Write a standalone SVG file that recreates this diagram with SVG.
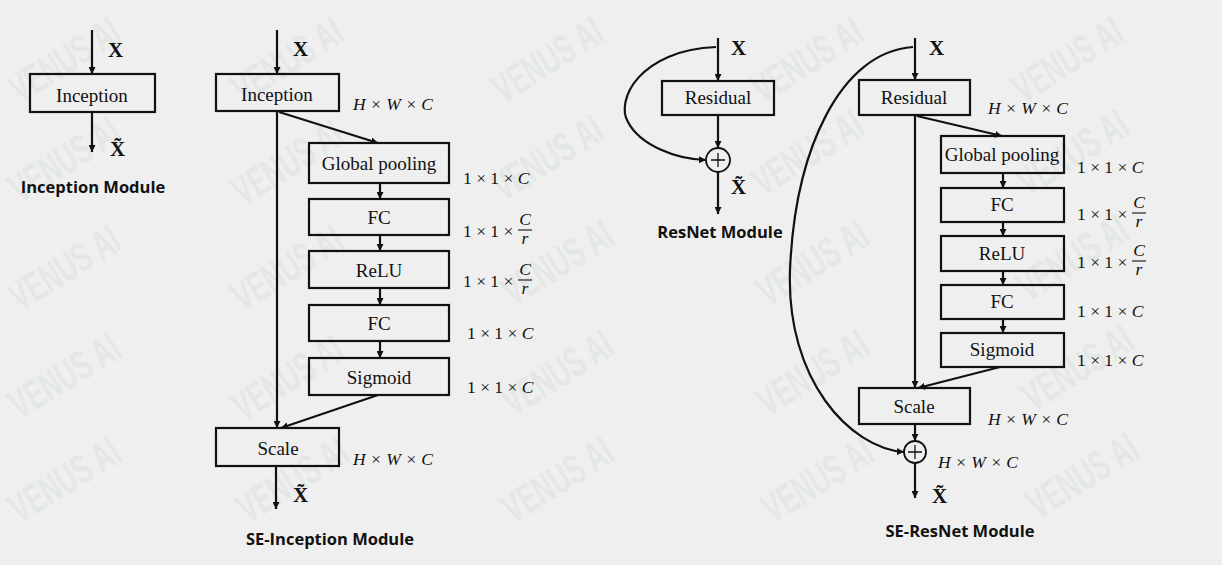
<svg xmlns="http://www.w3.org/2000/svg" width="1222" height="565" viewBox="0 0 1222 565">
<defs>
<marker id="ah" viewBox="0 0 10 10" refX="10" refY="5" markerWidth="7" markerHeight="7" markerUnits="userSpaceOnUse" orient="auto">
<path d="M0,0 L10,5 L0,10 z" fill="#111"/>
</marker>
<style>
.bg{fill:#efefef}
.box{fill:none;stroke:#111;stroke-width:2.2}
.arr{fill:none;stroke:#111;stroke-width:2.2;marker-end:url(#ah)}
.lbl{font-family:"Liberation Serif","Times New Roman",serif;font-size:19px;fill:#111;text-anchor:middle}
.x{font-family:"Liberation Serif","Times New Roman",serif;font-size:21px;font-weight:bold;fill:#111}
.dim{font-family:"Liberation Serif","Times New Roman",serif;font-size:17.5px;fill:#111}
.it{font-style:italic}
.frac{stroke:#111;stroke-width:1.1}
.title{font-family:"Open Sans","Liberation Sans",sans-serif;font-size:16.5px;font-weight:bold;fill:#111;text-anchor:middle}
.wm{font-family:"Liberation Sans","DejaVu Sans",sans-serif;font-size:42px;font-weight:bold;fill:#dbe3e1;opacity:0.55;text-anchor:middle}
</style>
</defs>
<rect class="bg" x="0" y="0" width="1222" height="565"/>

<g id="watermarks">
<text class="wm" transform="translate(72,72) rotate(-32) scale(0.62,1)">VENUS AI</text>
<text class="wm" transform="translate(72,172) rotate(-32) scale(0.62,1)">VENUS AI</text>
<text class="wm" transform="translate(72,280) rotate(-32) scale(0.62,1)">VENUS AI</text>
<text class="wm" transform="translate(72,388) rotate(-32) scale(0.62,1)">VENUS AI</text>
<text class="wm" transform="translate(72,492) rotate(-32) scale(0.62,1)">VENUS AI</text>
<text class="wm" transform="translate(295,72) rotate(-32) scale(0.62,1)">VENUS AI</text>
<text class="wm" transform="translate(295,175) rotate(-32) scale(0.62,1)">VENUS AI</text>
<text class="wm" transform="translate(295,280) rotate(-32) scale(0.62,1)">VENUS AI</text>
<text class="wm" transform="translate(295,390) rotate(-32) scale(0.62,1)">VENUS AI</text>
<text class="wm" transform="translate(300,492) rotate(-32) scale(0.62,1)">VENUS AI</text>
<text class="wm" transform="translate(555,72) rotate(-32) scale(0.62,1)">VENUS AI</text>
<text class="wm" transform="translate(555,170) rotate(-32) scale(0.62,1)">VENUS AI</text>
<text class="wm" transform="translate(565,275) rotate(-32) scale(0.62,1)">VENUS AI</text>
<text class="wm" transform="translate(565,385) rotate(-32) scale(0.62,1)">VENUS AI</text>
<text class="wm" transform="translate(565,492) rotate(-32) scale(0.62,1)">VENUS AI</text>
<text class="wm" transform="translate(815,72) rotate(-32) scale(0.62,1)">VENUS AI</text>
<text class="wm" transform="translate(815,165) rotate(-32) scale(0.62,1)">VENUS AI</text>
<text class="wm" transform="translate(820,275) rotate(-32) scale(0.62,1)">VENUS AI</text>
<text class="wm" transform="translate(820,385) rotate(-32) scale(0.62,1)">VENUS AI</text>
<text class="wm" transform="translate(825,492) rotate(-32) scale(0.62,1)">VENUS AI</text>
<text class="wm" transform="translate(1075,72) rotate(-32) scale(0.62,1)">VENUS AI</text>
<text class="wm" transform="translate(1080,165) rotate(-32) scale(0.62,1)">VENUS AI</text>
<text class="wm" transform="translate(1080,270) rotate(-32) scale(0.62,1)">VENUS AI</text>
<text class="wm" transform="translate(1085,380) rotate(-32) scale(0.62,1)">VENUS AI</text>
<text class="wm" transform="translate(1090,488) rotate(-32) scale(0.62,1)">VENUS AI</text>
</g>

<g id="connectors">
<line class="arr" x1="92" y1="30" x2="92" y2="74"/>
<line class="arr" x1="92" y1="112" x2="92" y2="152"/>
<line class="arr" x1="277" y1="30" x2="277" y2="74"/>
<line class="arr" x1="277" y1="111" x2="277" y2="428"/>
<line class="arr" x1="279" y1="112" x2="378" y2="143"/>
<line class="arr" x1="380" y1="183" x2="380" y2="199"/>
<line class="arr" x1="380" y1="235" x2="380" y2="251"/>
<line class="arr" x1="380" y1="288" x2="380" y2="305"/>
<line class="arr" x1="380" y1="341" x2="380" y2="358"/>
<line class="arr" x1="378" y1="395" x2="281" y2="428"/>
<line class="arr" x1="276" y1="466" x2="276" y2="509"/>
<line class="arr" x1="718" y1="38" x2="718" y2="81"/>
<path class="arr" d="M716,47 C640,50 615,100 628,122 C640,145 675,159 706,160"/>
<line class="arr" x1="718" y1="115" x2="718" y2="148"/>
<line class="arr" x1="718" y1="172" x2="718" y2="214"/>
<line class="arr" x1="915" y1="38" x2="915" y2="80"/>
<path class="arr" d="M913,47 C840,52 795,150 790,270 C786,380 850,448 904,452"/>
<line class="arr" x1="915" y1="115" x2="915" y2="388"/>
<line class="arr" x1="917" y1="116" x2="1002" y2="136"/>
<line class="arr" x1="1003" y1="173" x2="1003" y2="188"/>
<line class="arr" x1="1003" y1="222" x2="1003" y2="236"/>
<line class="arr" x1="1003" y1="271" x2="1003" y2="285"/>
<line class="arr" x1="1003" y1="319" x2="1003" y2="333"/>
<line class="arr" x1="1000" y1="367" x2="918" y2="388"/>
<line class="arr" x1="915" y1="424" x2="915" y2="441"/>
<line class="arr" x1="915" y1="463" x2="915" y2="498"/>
</g>

<g id="inception-module">
<rect class="box" x="30" y="74" width="125" height="38"/>
<text class="lbl" x="92" y="102">Inception</text>
<text class="x" x="108" y="57">X</text>
<text class="x" x="110" y="156">X̃</text>
<text class="title" x="93" y="193">Inception Module</text>
</g>

<g id="se-inception">
<g id="se-inc-inception"><rect class="box" x="216" y="74" width="123" height="37"/><text class="lbl" x="277" y="101">Inception</text></g>
<text class="x" x="293" y="56">X</text>
<text class="dim it" x="353" y="110">H × W × C</text>
<g id="se-inc-gp"><rect class="box" x="309" y="143" width="140" height="40"/><text class="lbl" x="379" y="170">Global pooling</text></g>
<text class="dim" x="463" y="184">1 × 1 × <tspan class="it">C</tspan></text>
<g id="se-inc-fc1"><rect class="box" x="309" y="199" width="140" height="36"/><text class="lbl" x="379" y="224">FC</text></g>
<text class="dim" x="463" y="237">1 × 1 ×</text>
<text class="dim it" x="525" y="225" text-anchor="middle">C</text>
<line class="frac" x1="518" y1="230" x2="532" y2="230"/>
<text class="dim it" x="525" y="244" text-anchor="middle">r</text>
<g id="se-inc-relu"><rect class="box" x="309" y="251" width="140" height="37"/><text class="lbl" x="379" y="277">ReLU</text></g>
<text class="dim" x="463" y="287">1 × 1 ×</text>
<text class="dim it" x="525" y="275" text-anchor="middle">C</text>
<line class="frac" x1="518" y1="280" x2="532" y2="280"/>
<text class="dim it" x="525" y="294" text-anchor="middle">r</text>
<g id="se-inc-fc2"><rect class="box" x="309" y="305" width="140" height="36"/><text class="lbl" x="379" y="330">FC</text></g>
<text class="dim" x="467" y="339">1 × 1 × <tspan class="it">C</tspan></text>
<g id="se-inc-sig"><rect class="box" x="309" y="358" width="140" height="37"/><text class="lbl" x="379" y="384">Sigmoid</text></g>
<text class="dim" x="467" y="393">1 × 1 × <tspan class="it">C</tspan></text>
<g id="se-inc-scale"><rect class="box" x="216" y="428" width="123" height="38"/><text class="lbl" x="278" y="455">Scale</text></g>
<text class="dim it" x="353" y="465">H × W × C</text>
<text class="x" x="293" y="502">X̃</text>
<text class="title" x="330" y="545">SE-Inception Module</text>
</g>

<g id="resnet">
<g id="res-residual"><rect class="box" x="662" y="81" width="112" height="34"/><text class="lbl" x="718" y="104">Residual</text></g>
<text class="x" x="731" y="55">X</text>
<g id="res-add"><circle cx="718" cy="160" r="12" fill="none" stroke="#111" stroke-width="1.8"/><path d="M711,160 H725 M718,153 V167" stroke="#111" stroke-width="1.3"/></g>
<text class="x" x="731" y="194">X̃</text>
<text class="title" x="720" y="238">ResNet Module</text>
</g>

<g id="se-resnet">
<g id="ser-residual"><rect class="box" x="859" y="80" width="111" height="35"/><text class="lbl" x="914" y="104">Residual</text></g>
<text class="x" x="929" y="55">X</text>
<text class="dim it" x="988" y="114">H × W × C</text>
<g id="ser-gp"><rect class="box" x="941" y="136" width="123" height="37"/><text class="lbl" x="1002" y="161">Global pooling</text></g>
<text class="dim" x="1077" y="173">1 × 1 × <tspan class="it">C</tspan></text>
<g id="ser-fc1"><rect class="box" x="941" y="188" width="123" height="34"/><text class="lbl" x="1002" y="211">FC</text></g>
<text class="dim" x="1077" y="220">1 × 1 ×</text>
<text class="dim it" x="1139" y="208" text-anchor="middle">C</text>
<line class="frac" x1="1132" y1="213" x2="1146" y2="213"/>
<text class="dim it" x="1139" y="227" text-anchor="middle">r</text>
<g id="ser-relu"><rect class="box" x="941" y="236" width="123" height="35"/><text class="lbl" x="1002" y="260">ReLU</text></g>
<text class="dim" x="1077" y="268">1 × 1 ×</text>
<text class="dim it" x="1139" y="256" text-anchor="middle">C</text>
<line class="frac" x1="1132" y1="261" x2="1146" y2="261"/>
<text class="dim it" x="1139" y="275" text-anchor="middle">r</text>
<g id="ser-fc2"><rect class="box" x="941" y="285" width="123" height="34"/><text class="lbl" x="1002" y="308">FC</text></g>
<text class="dim" x="1077" y="317">1 × 1 × <tspan class="it">C</tspan></text>
<g id="ser-sig"><rect class="box" x="941" y="333" width="123" height="34"/><text class="lbl" x="1002" y="356">Sigmoid</text></g>
<text class="dim" x="1077" y="366">1 × 1 × <tspan class="it">C</tspan></text>
<g id="ser-scale"><rect class="box" x="859" y="388" width="111" height="36"/><text class="lbl" x="914" y="413">Scale</text></g>
<text class="dim it" x="988" y="425">H × W × C</text>
<g id="ser-add"><circle cx="915" cy="452" r="11" fill="none" stroke="#111" stroke-width="1.8"/><path d="M908,452 H922 M915,445 V459" stroke="#111" stroke-width="1.3"/></g>
<text class="dim it" x="938" y="468">H × W × C</text>
<text class="x" x="932" y="503">X̃</text>
<text class="title" x="960" y="537">SE-ResNet Module</text>
</g>
</svg>
